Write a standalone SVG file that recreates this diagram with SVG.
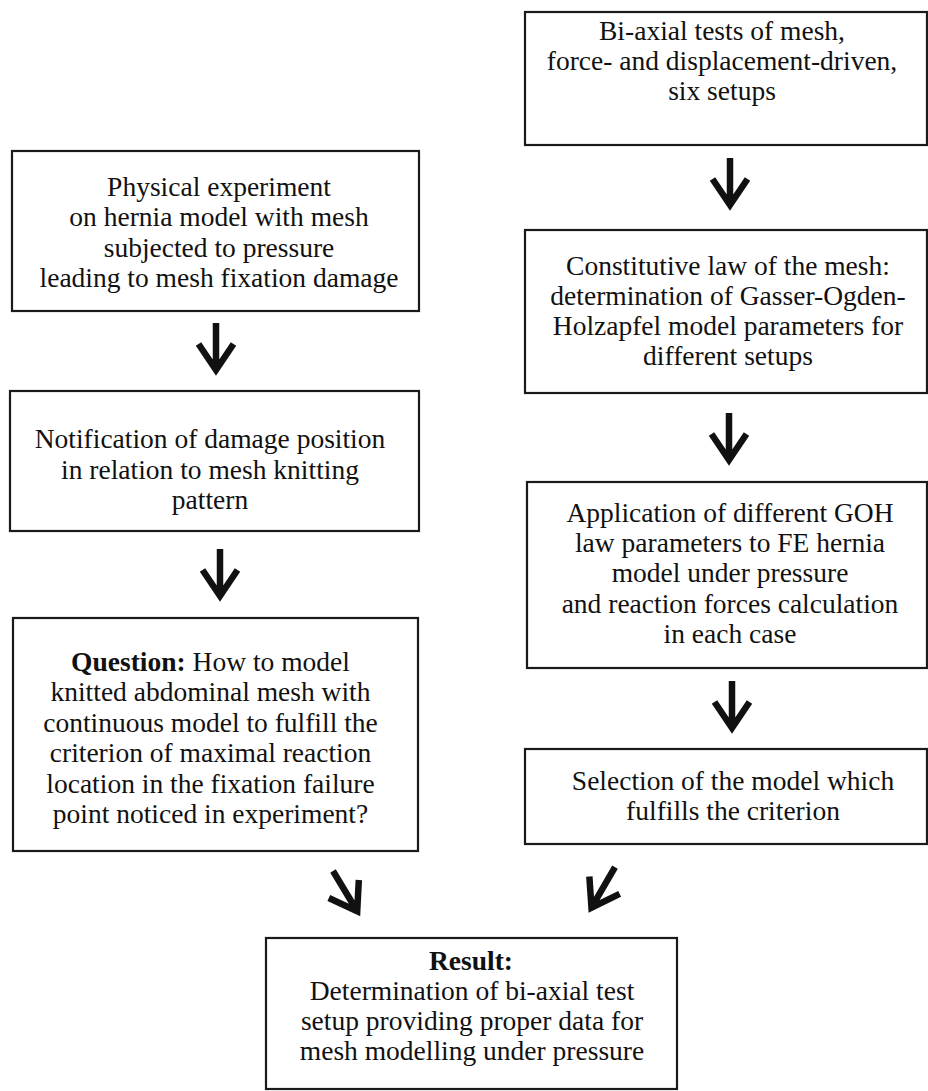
<svg xmlns="http://www.w3.org/2000/svg" xmlns:xlink="http://www.w3.org/1999/xlink" width="928" height="1091" viewBox="0 0 928 1091">
<style>
.box{fill:#fff;stroke:#1a1a1a;stroke-width:2.2}
.t{font-family:"Liberation Serif","Times New Roman",serif;font-size:27.5px;fill:#111;text-anchor:middle}
.b{font-weight:bold}
.arr{fill:none;stroke:#111;stroke-width:6.5;stroke-linejoin:miter;stroke-miterlimit:10}
</style>
<defs>
<path id="down" class="arr" d="M0,0 V47 M-17.5,21 L0,47 L17.5,21"/>
</defs>
<rect width="928" height="1091" fill="#fff"/>
<g id="n-biaxial"><rect class="box" x="525" y="12" width="402" height="133"/>
<text class="t" x="722" y="40">Bi-axial tests of mesh,</text>
<text class="t" x="722" y="70">force- and displacement-driven,</text>
<text class="t" x="722" y="100">six setups</text></g>
<g id="n-physical"><rect class="box" x="12" y="151" width="407" height="160"/>
<text class="t" x="219" y="195.5">Physical experiment</text>
<text class="t" x="219" y="226">on hernia model with mesh</text>
<text class="t" x="219" y="256.5">subjected to pressure</text>
<text class="t" x="219" y="287">leading to mesh fixation damage</text></g>
<g id="n-constitutive"><rect class="box" x="525" y="230" width="402" height="163"/>
<text class="t" x="728" y="275">Constitutive law of the mesh:</text>
<text class="t" x="728" y="305">determination of Gasser-Ogden-</text>
<text class="t" x="728" y="335">Holzapfel model parameters for</text>
<text class="t" x="728" y="365">different setups</text></g>
<g id="n-notification"><rect class="box" x="10" y="391" width="409" height="140"/>
<text class="t" x="210" y="448">Notification of damage position</text>
<text class="t" x="210" y="478.5">in relation to mesh knitting</text>
<text class="t" x="210" y="509">pattern</text></g>
<g id="n-application"><rect class="box" x="527" y="482" width="400" height="186"/>
<text class="t" x="730" y="521.5">Application of different GOH</text>
<text class="t" x="730" y="552">law parameters to FE hernia</text>
<text class="t" x="730" y="582">model under pressure</text>
<text class="t" x="730" y="612.5">and reaction forces calculation</text>
<text class="t" x="730" y="643">in each case</text></g>
<g id="n-question"><rect class="box" x="13" y="618" width="405" height="233"/>
<text class="t" x="210.5" y="670.5"><tspan class="b">Question:</tspan> How to model</text>
<text class="t" x="210.5" y="701">knitted abdominal mesh with</text>
<text class="t" x="210.5" y="731.5">continuous model to fulfill the</text>
<text class="t" x="210.5" y="762">criterion of maximal reaction</text>
<text class="t" x="210.5" y="792.5">location in the fixation failure</text>
<text class="t" x="210.5" y="823">point noticed in experiment?</text></g>
<g id="n-selection"><rect class="box" x="525" y="749" width="402" height="95"/>
<text class="t" x="733" y="790">Selection of the model which</text>
<text class="t" x="733" y="820">fulfills the criterion</text></g>
<g id="n-result"><rect class="box" x="266" y="938" width="411" height="151"/>
<text class="t b" x="471" y="970">Result:</text>
<text class="t" x="472" y="1000">Determination of bi-axial test</text>
<text class="t" x="472" y="1030">setup providing proper data for</text>
<text class="t" x="472" y="1060">mesh modelling under pressure</text></g>
<g id="connectors">
<use xlink:href="#down" transform="translate(216,323)"/>
<use xlink:href="#down" transform="translate(220,549)"/>
<use xlink:href="#down" transform="translate(730,158)"/>
<use xlink:href="#down" transform="translate(729,413)"/>
<use xlink:href="#down" transform="translate(732,681)"/>
<use xlink:href="#down" transform="translate(333,871) rotate(-31)"/>
<use xlink:href="#down" transform="translate(615,867) rotate(30)"/>
</g>
</svg>
